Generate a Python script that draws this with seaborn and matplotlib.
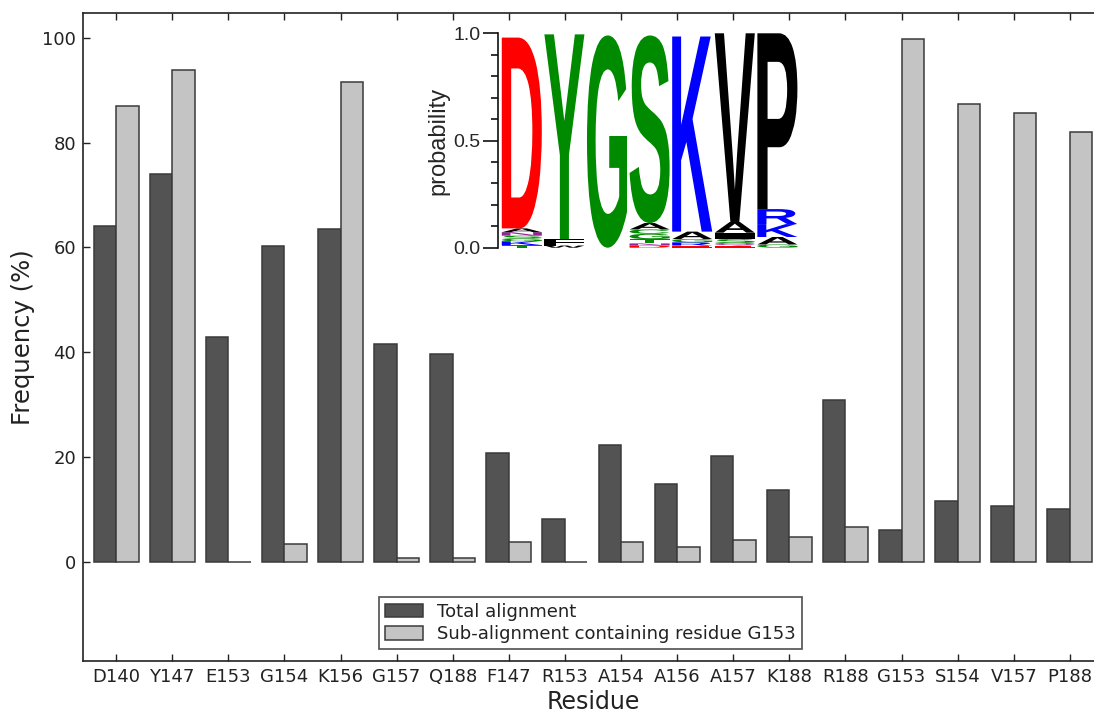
import numpy as np
import pandas as pd
import seaborn as sns
import matplotlib
matplotlib.use("Agg")
import matplotlib.pyplot as plt
from matplotlib.textpath import TextPath
from matplotlib.font_manager import FontProperties
from matplotlib.patches import PathPatch, Patch
from matplotlib.transforms import Affine2D

# ---- bar chart data -------------------------------------------------------
residues = ["D140", "Y147", "E153", "G154", "K156", "G157", "Q188", "F147", "R153",
            "A154", "A156", "A157", "K188", "R188", "G153", "S154", "V157", "P188"]
total_alignment = [64.2, 74.1, 42.9, 60.2, 63.5, 41.6, 39.7, 20.8, 8.2,
                   22.3, 14.9, 20.1, 13.7, 30.8, 6.1, 11.5, 10.6, 10.1]
sub_alignment = [87.0, 93.9, 0.0, 3.4, 91.7, 0.7, 0.7, 3.7, 0.0,
                 3.8, 2.7, 4.2, 4.6, 6.6, 99.8, 87.5, 85.7, 82.1]
series_names = ["Total alignment", "Sub-alignment containing residue G153"]
yticks = [0, 20, 40, 60, 80, 100]

# ---- sequence logo data (stacks listed bottom -> top: letter, probability) --
logo_col1 = [("T", 0.012), ("K", 0.018), ("G", 0.012), ("S", 0.014), ("N", 0.016), ("A", 0.018), ("D", 0.89)]
logo_col2 = [("W", 0.01), ("F", 0.03), ("Y", 0.955)]
logo_col3 = [("G", 0.99)]
logo_col4 = [("D", 0.01), ("N", 0.01), ("T", 0.02), ("G", 0.025), ("C", 0.02), ("A", 0.03), ("S", 0.875)]
logo_col5 = [("E", 0.01), ("R", 0.015), ("G", 0.015), ("A", 0.035), ("K", 0.91)]
logo_col6 = [("E", 0.01), ("Q", 0.012), ("S", 0.018), ("I", 0.03), ("A", 0.05), ("V", 0.88)]
logo_col7 = [("G", 0.015), ("A", 0.035), ("K", 0.06), ("R", 0.07), ("P", 0.82)]
logo_columns = [logo_col1, logo_col2, logo_col3, logo_col4, logo_col5, logo_col6, logo_col7]
logo_ticks = [0.0, 0.5, 1.0]

# chemistry colour scheme for amino acids
aa_colors = {}
for aa in "GSTYC":
    aa_colors[aa] = "#008a00"
for aa in "NQ":
    aa_colors[aa] = "#9c1f9c"
for aa in "KRH":
    aa_colors[aa] = "#0000ff"
for aa in "DE":
    aa_colors[aa] = "#ff0000"
for aa in "AVLIPWFM":
    aa_colors[aa] = "#000000"

# ---- figure ---------------------------------------------------------------
sns.set_theme(style="ticks")
plt.rcParams["font.family"] = ["DejaVu Sans"]

W, H = 1094, 713
fig = plt.figure(figsize=(W / 100, H / 100), dpi=100)

ax_left, ax_right, ax_top, ax_bottom = 83, 1103.5, 13, 661
ax = fig.add_axes([ax_left / W, 1 - ax_bottom / H, (ax_right - ax_left) / W, (ax_bottom - ax_top) / H])

df = pd.DataFrame({
    "Residue": residues * 2,
    "Frequency": total_alignment + sub_alignment,
    "Series": [series_names[0]] * len(residues) + [series_names[1]] * len(residues),
})

dark, light = "#535353", "#c4c4c4"
sns.barplot(data=df, x="Residue", y="Frequency", hue="Series", order=residues,
            hue_order=series_names, palette=[dark, light], saturation=1,
            width=0.8, edgecolor="#3a3a3a", linewidth=1.1, legend=False, ax=ax)

ax.set_xlim(-0.59, len(residues) - 0.4)
ax.set_ylim(-19, 104.8)
ax.set_yticks(yticks)
ax.set_yticklabels([str(t) for t in yticks])

for side in ["left", "bottom", "top", "right"]:
    ax.spines[side].set_visible(True)
    ax.spines[side].set_color("#222222")
    ax.spines[side].set_linewidth(1.2)

ax.tick_params(axis="both", direction="in", length=5, width=1, color="#222222",
               labelsize=13, labelcolor="#222222", pad=5)
ax.tick_params(axis="x", top=True)
ax.tick_params(axis="y", right=True)

ax.set_xlabel("Residue", fontsize=17, color="#222222", labelpad=3)
ax.set_ylabel("Frequency (%)", fontsize=17.5, color="#222222", labelpad=5)

handles = [Patch(facecolor=dark, edgecolor="#3a3a3a", linewidth=1.1),
           Patch(facecolor=light, edgecolor="#3a3a3a", linewidth=1.1)]
leg = ax.legend(handles, series_names, loc="upper left",
                bbox_to_anchor=(379 / W, 1 - 597 / H), bbox_transform=fig.transFigure,
                borderaxespad=0, fontsize=13, frameon=True, fancybox=False,
                handlelength=2.1, handleheight=0.8, handletextpad=0.8,
                labelspacing=0.25, borderpad=0.32)
leg.get_frame().set_edgecolor("#222222")
leg.get_frame().set_linewidth(1.2)
for t in leg.get_texts():
    t.set_color("#222222")

# ---- sequence logo inset --------------------------------------------------
col_w = 42.6
lx0, ly0, ly1 = 498, 247.7, 33.3
ncol = len(logo_columns)
x_lo = -(500.5 - lx0) / col_w
lax = fig.add_axes([lx0 / W, 1 - ly0 / H, (ncol - x_lo) * col_w / W, (ly0 - ly1) / H])
lax.set_xlim(x_lo, ncol)
lax.set_ylim(0, 1)
lax.patch.set_alpha(0)
for side in ["top", "right", "bottom"]:
    lax.spines[side].set_visible(False)
lax.spines["left"].set_color("#111111")
lax.spines["left"].set_linewidth(1.2)
lax.set_xticks([])
lax.set_yticks(logo_ticks)
lax.set_yticklabels(["%.1f" % t for t in logo_ticks])
lax.set_yticks(np.arange(0.1, 1.0, 0.1), minor=True)
lax.tick_params(axis="y", which="major", direction="out", length=11, width=1.2,
                labelsize=14, pad=1.5, color="#111111")
lax.tick_params(axis="y", which="minor", direction="out", length=5, width=1.2, color="#111111")
for lbl in lax.get_yticklabels():
    lbl.set_family(["Liberation Sans"])
lax.set_ylabel("probability", fontsize=17, family=["Liberation Sans"], labelpad=3)

glyph_font = FontProperties(family="Liberation Sans", weight="bold")


def draw_letter(axis, letter, x, y, w, h, color):
    tp = TextPath((0, 0), letter, size=1, prop=glyph_font)
    bb = tp.get_extents()
    tr = (Affine2D().translate(-bb.x0, -bb.y0)
          .scale(w / bb.width, h / bb.height)
          .translate(x, y))
    axis.add_patch(PathPatch(tr.transform_path(tp), facecolor=color,
                             edgecolor="none", lw=0))


letter_w = 0.94
for i, stack in enumerate(logo_columns):
    y = 0.0
    for letter, p in stack:
        draw_letter(lax, letter, i + (1 - letter_w) / 2, y, letter_w, p, aa_colors[letter])
        y += p

fig.savefig("out.png", dpi=100)
